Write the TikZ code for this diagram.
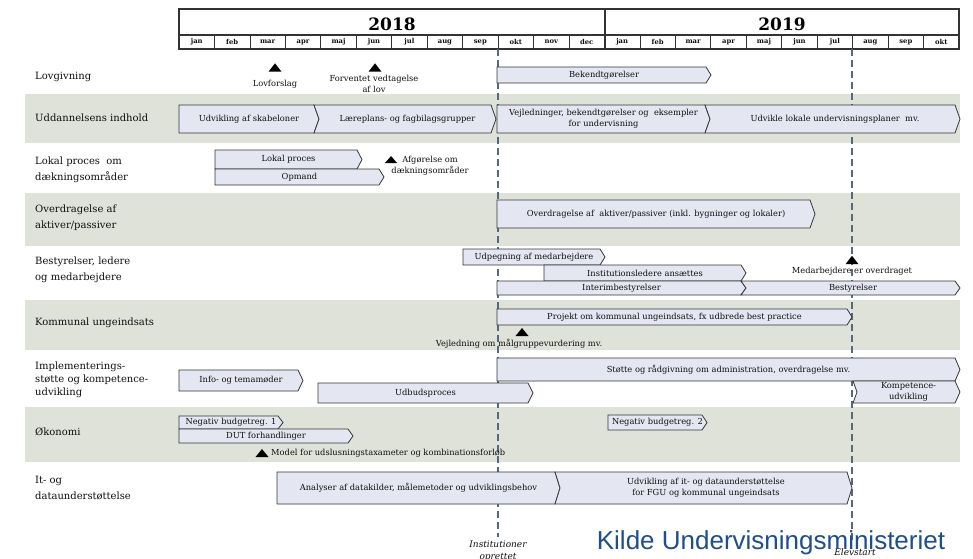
\documentclass[tikz,border=0pt]{standalone}
\usepackage{fontspec}
\setmainfont{DejaVu Serif}
\setsansfont{Liberation Sans}
\definecolor{band}{RGB}{222,226,217}
\definecolor{barfill}{RGB}{228,231,241}
\definecolor{barline}{RGB}{55,55,55}
\definecolor{dashc}{RGB}{85,105,120}
\definecolor{kilde}{RGB}{31,78,140}
\definecolor{ink}{RGB}{15,15,15}
\tikzset{
  barshape/.style={fill=barfill, draw=barline, line width=0.8pt, line join=miter},
  bartext/.style={font=\fontsize{8.3}{10.5}\selectfont, align=center, inner sep=0pt, text=ink},
  rowlabel/.style={font=\fontsize{10}{16}\selectfont, anchor=west, align=left, inner sep=0pt, text=ink},
  note/.style={font=\fontsize{8.3}{10.5}\selectfont, align=center, inner sep=0pt, text=ink},
  guide/.style={dashc, dash pattern=on 7pt off 4pt, line width=1.1pt},
  bandfill/.style={fill=band, draw=none},
  hdr/.style={draw=black!80, line width=1.2pt},
  hdrthin/.style={draw=black!80, line width=0.8pt},
  yearfont/.style={font=\fontsize{17}{20}\selectfont\bfseries, inner sep=0pt},
  monthfont/.style={font=\fontsize{6.8}{8}\selectfont\bfseries, inner sep=0pt, text=ink},
  mstone/.style={fill=black},
  italnote/.style={font=\fontsize{9}{12}\selectfont\itshape, align=center, inner sep=0pt, text=ink},
}
\newcommand\chevbar[7]{%
  \draw[barshape] (#2,#4) -- ({#3-5},#4) -- (#3,{(#4+#5)/2}) -- ({#3-5},#5) -- (#2,#5) -- ({#2+#6},{(#4+#5)/2}) -- cycle;
  \node[bartext] (#1) at ({(#2+#3)/2+#6/2},{(#4+#5)/2}) {#7};
}
\newcommand\milestone[5]{%
  \coordinate (#1) at (#2,#3);
  \fill[mstone] ([shift={(-#4,#5)}]#1) -- ([shift={(0,-#5)}]#1) -- ([shift={(#4,#5)}]#1) -- cycle;
}
\begin{document}
\begin{tikzpicture}[x=1pt,y=-1pt]
\useasboundingbox (0,0) rectangle (973,558);
\fill[white] (0,0) rectangle (973,558);

% bands
\fill[bandfill] (25,94) rectangle (960,143);
\fill[bandfill] (25,193) rectangle (960,246);
\fill[bandfill] (25,300) rectangle (960,350);
\fill[bandfill] (25,407) rectangle (960,462);

% header
\draw[hdr] (179,9) rectangle (959,49);
\draw[hdr] (179,35) -- (959,35);
\draw[hdr] (605,9) -- (605,49);
\foreach \i in {1,...,21} \draw[hdrthin] ({179+\i*35.4545},35) -- ({179+\i*35.4545},49);
\node[yearfont] (y2018) at (392,24) {2018};
\node[yearfont] (y2019) at (782,24) {2019};
\foreach \m [count=\i from 0] in {jan,feb,mar,apr,maj,jun,jul,aug,sep,okt,nov,dec,jan,feb,mar,apr,maj,jun,jul,aug,sep,okt}
  \node[monthfont] (mo\i) at ({179+(\i+0.5)*35.4545},42) {\m};

% guides
\coordinate (g1top) at (498,49);
\coordinate (g1bot) at (498,537);
\coordinate (g2top) at (852,49);
\coordinate (g2bot) at (852,540);
\draw[guide] (g1top) -- (g1bot);
\draw[guide] (g2top) -- (g2bot);

% row labels
\node[rowlabel] (lLov) at (35,77) {Lovgivning};
\node[rowlabel] (lUdd) at (35,118) {Uddannelsens indhold};
\node[rowlabel] (lLok) at (35,170) {Lokal proces\ \ om\\dækningsområder};
\node[rowlabel] (lOvd) at (35,218) {Overdragelse af\\aktiver/passiver};
\node[rowlabel] (lBes) at (35,270) {Bestyrelser, ledere\\og medarbejdere};
\node[rowlabel] (lKom) at (35,323) {Kommunal ungeindsats};
\node[rowlabel, font=\fontsize{10}{13}\selectfont] (lImp) at (35,380) {Implementerings-\\støtte og kompetence-\\udvikling};
\node[rowlabel] (lOko) at (35,432) {Økonomi};
\node[rowlabel] (lIt) at (35,488) {It- og\\dataunderstøttelse};

% bars
\chevbar{bek}{497}{711}{67}{83}{0}{Bekendtgørelser}
\chevbar{skab}{179}{319}{105}{133}{0}{Udvikling af skabeloner}
\chevbar{laer}{314}{496}{105}{133}{5}{Læreplans- og fagbilagsgrupper}
\chevbar{vejl}{497}{710}{105}{133}{0}{Vejledninger, bekendtgørelser og\ \ eksempler\\for undervisning}
\chevbar{udvl}{705}{960}{105}{133}{5}{Udvikle lokale undervisningsplaner\ \ mv.}
\chevbar{lok}{215}{362}{150}{169}{0}{Lokal proces}
\chevbar{opm}{215}{384}{169}{185}{0}{Opmand}
\chevbar{ovd}{497}{815}{200}{228}{0}{Overdragelse af\ \ aktiver/passiver (inkl. bygninger og lokaler)}
\chevbar{udp}{463}{605}{249}{265}{0}{Udpegning af medarbejdere}
\chevbar{inst}{544}{746}{265}{281}{0}{Institutionsledere ansættes}
\chevbar{interim}{497}{746}{281}{295}{0}{Interimbestyrelser}
\chevbar{best}{741}{960}{281}{295}{5}{Bestyrelser}
\chevbar{proj}{497}{852}{309}{325}{0}{Projekt om kommunal ungeindsats, fx udbrede best practice}
\chevbar{stot}{497}{960}{358}{381}{0}{Støtte og rådgivning om administration, overdragelse mv.}
\chevbar{info}{179}{303}{370}{391}{0}{Info- og temamøder}
\chevbar{udb}{318}{533}{383}{403}{0}{Udbudsproces}
\chevbar{komp}{853}{960}{381}{403}{4}{Kompetence-\\udvikling}
\chevbar{neg1}{179}{283}{416}{429}{0}{Negativ budgetreg. 1}
\chevbar{dut}{179}{353}{429}{443}{0}{DUT forhandlinger}
\chevbar{neg2}{608}{707}{415}{430}{0}{Negativ budgetreg. 2}
\chevbar{anal}{277}{560}{472}{504}{0}{Analyser af datakilder, målemetoder og udviklingsbehov}
\chevbar{udit}{555}{852}{472}{504}{5}{Udvikling af it- og dataunderstøttelse\\for FGU og kommunal ungeindsats}

% milestones
\milestone{tLov}{275}{67.5}{6.5}{4.2}
\node[note] (nLov) at (275,84) {Lovforslag};
\milestone{tVed}{375}{67.5}{6.5}{4.2}
\node[note] (nVed) at (374,84) {Forventet vedtagelse\\af lov};
\milestone{tAfg}{391}{159.5}{6}{3.5}
\node[note] (nAfg) at (430,166) {Afgørelse om\\dækningsområder};
\milestone{tMed}{852}{260}{6.5}{4.2}
\node[note] (nMed) at (852,271) {Medarbejdere er overdraget};
\milestone{tVejl}{522}{332}{6.5}{4}
\node[note] (nVejl) at (519,344) {Vejledning om målgruppevurdering mv.};
\milestone{tMod}{262}{453}{6.5}{4}
\node[note, anchor=west] (nMod) at (271,453) {Model for udslusningstaxameter og kombinationsforløb};

% bottom labels
\node[italnote] (nInst) at (498,551) {Institutioner\\oprettet};
\node[italnote] (nElev) at (855,552) {Elevstart};
\node[font=\sffamily\fontsize{26}{30}\selectfont, text=kilde, inner sep=0pt] (kilde) at (771,543) {Kilde Undervisningsministeriet};
\end{tikzpicture}
\end{document}
